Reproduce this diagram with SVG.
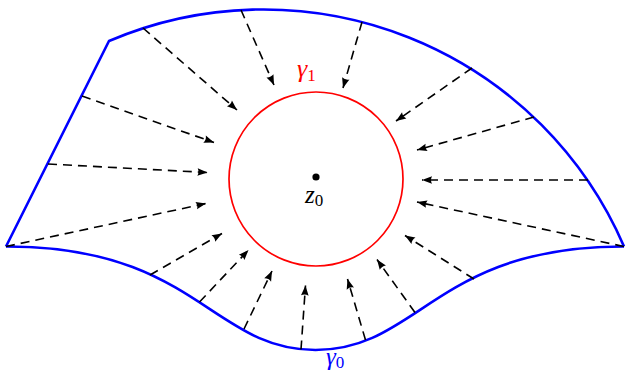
<svg xmlns="http://www.w3.org/2000/svg" width="625" height="375" viewBox="0 0 625 375">
<style>
.bd{fill:none;stroke:#0000ff;stroke-width:2.6;stroke-linejoin:miter}
.arr{fill:none;stroke:#000;stroke-width:1.6;stroke-dasharray:9,6;marker-end:url(#ah)}
.lbl{font-family:"Liberation Serif","DejaVu Serif",serif;font-style:italic}
</style>
<defs>
<marker id="ah" markerUnits="userSpaceOnUse" markerWidth="14" markerHeight="10" viewBox="-11 -5 12 10" refX="0" refY="0" orient="auto">
<path d="M0,0 L-10,-3.8 Q-8,0 -10,3.8 Z" fill="#000"/>
</marker>
</defs>
<rect width="625" height="375" fill="#fff"/>
<g id="gamma0-boundary">
<path class="bd" d="M6,246.5 L109,41 A393,393 0 0,1 624,246.5"/>
<path class="bd" d="M6,246.5 C195,246 212,350 315.5,350 S436,246 624,246.5"/>
</g>
<g id="gamma1-circle">
<circle cx="316" cy="179" r="87" fill="none" stroke="#ff0000" stroke-width="1.7"/>
</g>
<g id="z0">
<circle cx="316" cy="177" r="3.6" fill="#000"/>
<text class="lbl" x="305" y="203" font-size="25">z<tspan font-size="17" font-style="normal" dy="3">0</tspan></text>
</g>
<g id="label-gamma1">
<text class="lbl" x="297" y="77" font-size="26" fill="#ff0000">γ<tspan font-size="17" font-style="normal" dy="4">1</tspan></text>
</g>
<g id="label-gamma0">
<text class="lbl" x="326" y="365" font-size="25" fill="#0000ff">γ<tspan font-size="17" font-style="normal" dy="3">0</tspan></text>
</g>
<g id="connectors">
<line class="arr" x1="143" y1="28" x2="237" y2="110"/>
<line class="arr" x1="241" y1="10" x2="274" y2="85"/>
<line class="arr" x1="362" y1="22" x2="343" y2="88"/>
<line class="arr" x1="472" y1="68" x2="396" y2="121"/>
<line class="arr" x1="534" y1="117" x2="417" y2="150"/>
<line class="arr" x1="588" y1="180" x2="422" y2="180"/>
<line class="arr" x1="624" y1="246.5" x2="417" y2="202"/>
<line class="arr" x1="474" y1="279" x2="405" y2="235.5"/>
<line class="arr" x1="415" y1="312.5" x2="377" y2="259.5"/>
<line class="arr" x1="365.5" y1="340" x2="347.5" y2="279"/>
<line class="arr" x1="301" y1="349.5" x2="305.5" y2="285.5"/>
<line class="arr" x1="244" y1="329" x2="272" y2="271"/>
<line class="arr" x1="199.5" y1="302" x2="248.5" y2="250"/>
<line class="arr" x1="150" y1="275" x2="222" y2="233.5"/>
<line class="arr" x1="6" y1="246.5" x2="206" y2="203.5"/>
<line class="arr" x1="48" y1="164" x2="207.5" y2="172.5"/>
<line class="arr" x1="82" y1="96" x2="214" y2="142.5"/>
</g>
</svg>
